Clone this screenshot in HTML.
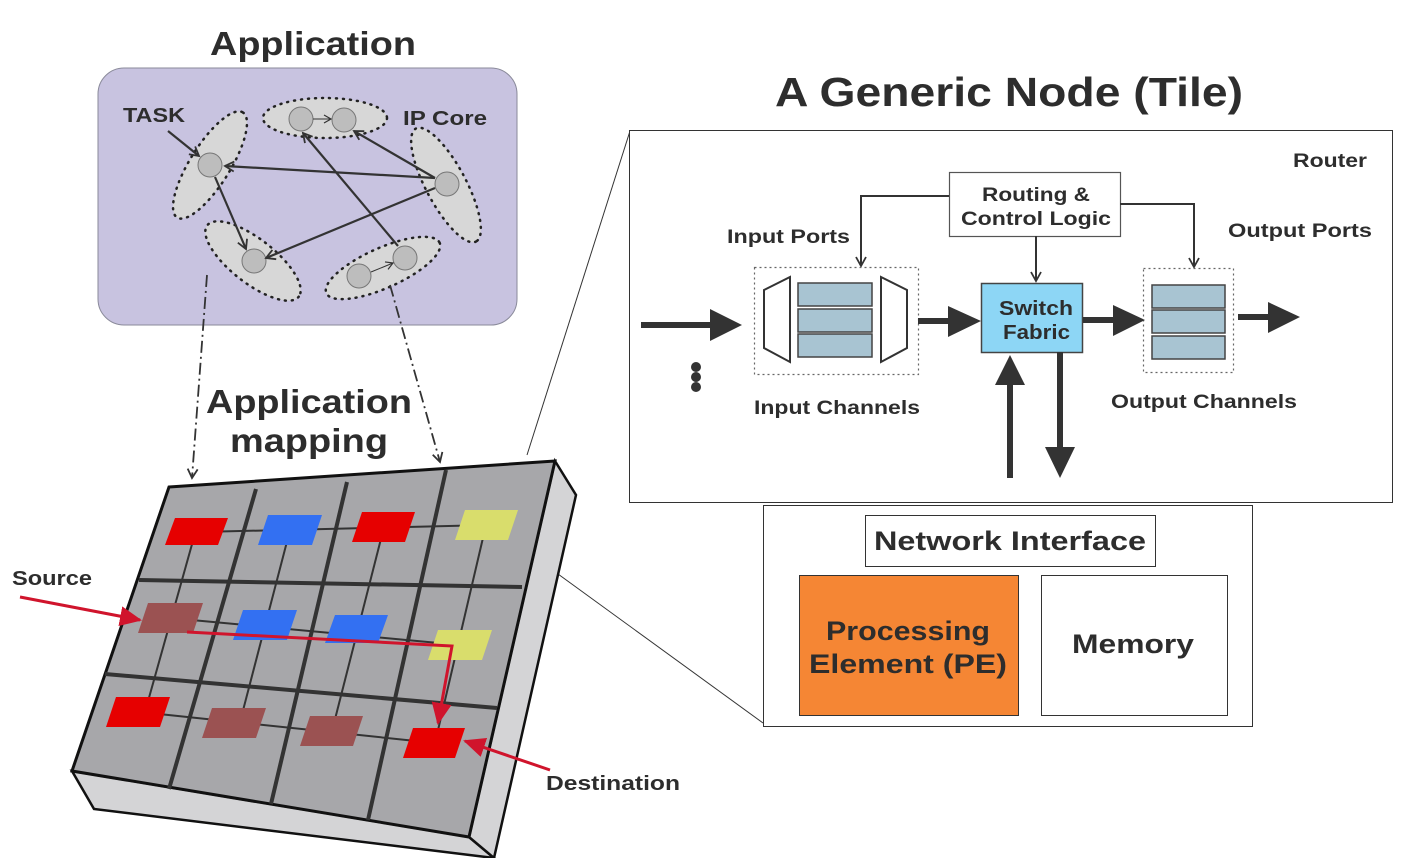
<!DOCTYPE html>
<html><head><meta charset="utf-8"><style>
html,body{margin:0;padding:0;background:#fff;}
svg{display:block;font-family:"Liberation Sans",sans-serif;font-weight:bold;}
</style></head><body>
<svg width="1407" height="858" viewBox="0 0 1407 858" xmlns="http://www.w3.org/2000/svg">
<defs>
<marker id="oa" markerWidth="12" markerHeight="12" refX="10" refY="6" orient="auto" markerUnits="userSpaceOnUse"><path d="M1,1 L10,6 L1,11" fill="none" stroke="#333" stroke-width="1.8"/></marker>
<marker id="sa" markerWidth="10" markerHeight="10" refX="8" refY="5" orient="auto" markerUnits="userSpaceOnUse"><path d="M1,1 L8,5 L1,9" fill="none" stroke="#333" stroke-width="1.2"/></marker>
<marker id="ra" markerWidth="24" markerHeight="20" refX="20" refY="10" orient="auto" markerUnits="userSpaceOnUse"><path d="M0,0 L22,10 L0,20 Z" fill="#d0142c"/></marker>
</defs>
<g fill="#2d2d2d">
<text x="210" y="55" font-size="33" textLength="206" lengthAdjust="spacingAndGlyphs">Application</text>
<text x="775" y="106" font-size="41" textLength="468" lengthAdjust="spacingAndGlyphs">A Generic Node (Tile)</text>
<text x="206" y="413" font-size="33" textLength="206" lengthAdjust="spacingAndGlyphs">Application</text>
<text x="230" y="452" font-size="33" textLength="158" lengthAdjust="spacingAndGlyphs">mapping</text>
</g>
<!-- application box -->
<rect x="98" y="68" width="419" height="257" rx="26" fill="#c8c3e0" stroke="#8a8a9a" stroke-width="1"/>
<g fill="#d7d7d7" stroke="#222" stroke-width="2.5" stroke-dasharray="1 6" stroke-linecap="round">
<ellipse cx="210" cy="165" rx="62" ry="20" transform="rotate(-58 210 165)"/>
<ellipse cx="325" cy="118" rx="62" ry="20"/>
<ellipse cx="446" cy="185" rx="64" ry="20" transform="rotate(62 446 185)"/>
<ellipse cx="253" cy="261" rx="58" ry="22" transform="rotate(38 253 261)"/>
<ellipse cx="383" cy="268" rx="62" ry="20" transform="rotate(-24 383 268)"/>
</g>
<g fill="#bdbdbd" stroke="#777" stroke-width="1">
<circle cx="210" cy="165" r="12"/><circle cx="301" cy="119" r="12"/><circle cx="344" cy="120" r="12"/>
<circle cx="447" cy="184" r="12"/><circle cx="254" cy="261" r="12"/><circle cx="359" cy="276" r="12"/><circle cx="405" cy="258" r="12"/>
</g>
<g stroke="#333" stroke-width="2.2" fill="none" marker-end="url(#oa)">
<line x1="168" y1="131" x2="199" y2="156"/>
<line x1="435" y1="178" x2="225" y2="166"/>
<line x1="435" y1="178" x2="354" y2="131"/>
<line x1="435" y1="188" x2="266" y2="258"/>
<line x1="215" y1="177" x2="246" y2="249"/>
<line x1="398" y1="246" x2="303" y2="133"/>
</g>
<line x1="313" y1="119" x2="331" y2="119" stroke="#333" stroke-width="1" marker-end="url(#sa)"/>
<line x1="371" y1="272" x2="393" y2="263" stroke="#333" stroke-width="1" marker-end="url(#sa)"/>
<g fill="#2d2d2d" font-size="20">
<text x="123" y="122" textLength="62" lengthAdjust="spacingAndGlyphs">TASK</text>
<text x="403" y="125" textLength="84" lengthAdjust="spacingAndGlyphs">IP Core</text>
</g>
<!-- dash-dot mapping lines -->
<g stroke="#333" stroke-width="1.8" fill="none" stroke-dasharray="12 4 2 4" marker-end="url(#oa)">
<line x1="207" y1="275" x2="192" y2="478"/>
<line x1="390" y1="285" x2="440" y2="462"/>
</g>
<!-- connector lines to tile -->
<line x1="527" y1="455" x2="630" y2="131" stroke="#333" stroke-width="1"/>
<line x1="558" y1="574" x2="763" y2="723" stroke="#333" stroke-width="1"/>
<!-- chip -->
<polygon points="72,771 469,837 494,858 94,809" fill="#d4d4d6" stroke="#111" stroke-width="2.5"/>
<polygon points="555,461 576,495 494,858 469,837" fill="#d4d4d6" stroke="#111" stroke-width="2.5"/>
<polygon points="169,487 555,461 469,837 72,771" fill="#a7a7aa" stroke="#111" stroke-width="3"/>
<g stroke="#333" stroke-width="4">
<line x1="139" y1="580" x2="522" y2="587"/>
<line x1="105" y1="674" x2="497" y2="708"/>
<line x1="256" y1="489" x2="169" y2="789"/>
<line x1="347" y1="482" x2="271" y2="804"/>
<line x1="446" y1="470" x2="368" y2="820"/>
</g>
<g stroke="#333" stroke-width="2">
<line x1="200" y1="532" x2="490" y2="525"/>
<line x1="170" y1="618" x2="460" y2="645"/>
<line x1="140" y1="712" x2="435" y2="743"/>
<line x1="196" y1="530" x2="145" y2="712"/>
<line x1="290" y1="530" x2="240" y2="722"/>
<line x1="384" y1="527" x2="332" y2="731"/>
<line x1="486" y1="525" x2="435" y2="743"/>
</g>
<g>
<polygon points="175,518 228,518 218,545 165,545" fill="#e60000"/>
<polygon points="268,515 322,515 312,545 258,545" fill="#3370f2"/>
<polygon points="362,512 415,512 405,542 352,542" fill="#e60000"/>
<polygon points="465,510 518,510 508,540 455,540" fill="#d9dd6c"/>
<polygon points="148,603 203,603 193,633 138,633" fill="#9b5252"/>
<polygon points="243,610 297,610 287,640 233,640" fill="#3370f2"/>
<polygon points="335,615 388,615 378,643 325,643" fill="#3370f2"/>
<polygon points="438,630 492,630 482,660 428,660" fill="#d9dd6c"/>
<polygon points="116,697 170,697 160,727 106,727" fill="#e60000"/>
<polygon points="212,708 266,708 256,738 202,738" fill="#9b5252"/>
<polygon points="310,716 363,716 353,746 300,746" fill="#9b5252"/>
<polygon points="413,728 465,728 455,758 403,758" fill="#e60000"/>
</g>
<polyline points="187,632 452,646 438,723" fill="none" stroke="#d0142c" stroke-width="3" marker-end="url(#ra)"/>
<line x1="20" y1="597" x2="140" y2="620" stroke="#d0142c" stroke-width="3" marker-end="url(#ra)"/>
<line x1="550" y1="770" x2="465" y2="741" stroke="#d0142c" stroke-width="3" marker-end="url(#ra)"/>
<g fill="#2d2d2d" font-size="20">
<text x="12" y="585" textLength="80" lengthAdjust="spacingAndGlyphs">Source</text>
<text x="546" y="790" textLength="134" lengthAdjust="spacingAndGlyphs">Destination</text>
</g>
<!-- router -->
<rect x="629.5" y="130.5" width="763" height="372" fill="#fff" stroke="#333" stroke-width="1"/>
<text x="1293" y="167" font-size="19" fill="#2d2d2d" textLength="74" lengthAdjust="spacingAndGlyphs">Router</text>
<rect x="949.5" y="172.5" width="171" height="64" fill="#fff" stroke="#555" stroke-width="1.2"/>
<text x="982" y="201" font-size="19" fill="#2d2d2d" textLength="108" lengthAdjust="spacingAndGlyphs">Routing &amp;</text>
<text x="961" y="225" font-size="19" fill="#2d2d2d" textLength="150" lengthAdjust="spacingAndGlyphs">Control Logic</text>
<g fill="#2d2d2d" font-size="19">
<text x="727" y="243" textLength="123" lengthAdjust="spacingAndGlyphs">Input Ports</text>
<text x="1228" y="237" textLength="144" lengthAdjust="spacingAndGlyphs">Output Ports</text>
<text x="754" y="414" textLength="166" lengthAdjust="spacingAndGlyphs">Input Channels</text>
<text x="1111" y="408" textLength="186" lengthAdjust="spacingAndGlyphs">Output Channels</text>
</g>
<g stroke="#333" stroke-width="2" fill="none" marker-end="url(#oa)">
<polyline points="949,196 861,196 861,266"/>
<polyline points="1120,204 1194,204 1194,267"/>
<line x1="1036" y1="236" x2="1036" y2="281"/>
</g>
<rect x="754.5" y="267.5" width="164" height="107" fill="none" stroke="#666" stroke-width="1.2" stroke-dasharray="2 3"/>
<rect x="1143.5" y="268.5" width="90" height="104" fill="none" stroke="#666" stroke-width="1.2" stroke-dasharray="2 3"/>
<polygon points="764,290 790,277 790,362 764,348" fill="#fff" stroke="#333" stroke-width="2"/>
<polygon points="881,277 907,290 907,348 881,362" fill="#fff" stroke="#333" stroke-width="2"/>
<g fill="#a8c4d2" stroke="#444" stroke-width="1.5">
<rect x="798" y="283" width="74" height="23"/><rect x="798" y="309" width="74" height="23"/><rect x="798" y="334" width="74" height="23"/>
<rect x="1152" y="285" width="73" height="23"/><rect x="1152" y="310" width="73" height="23"/><rect x="1152" y="336" width="73" height="23"/>
</g>
<rect x="981.5" y="283.5" width="101" height="69" fill="#8dd6f5" stroke="#444" stroke-width="1.5"/>
<text x="999" y="315" font-size="20" fill="#2d2d2d" textLength="74" lengthAdjust="spacingAndGlyphs">Switch</text>
<text x="1003" y="339" font-size="20" fill="#2d2d2d" textLength="67" lengthAdjust="spacingAndGlyphs">Fabric</text>
<g fill="#333">
<rect x="641" y="322" width="74" height="6"/><polygon points="710,309 742,325 710,341"/>
<rect x="918" y="318" width="34" height="6"/><polygon points="948,306 981,321 948,337"/>
<rect x="1083" y="317" width="34" height="6"/><polygon points="1113,305 1145,320 1113,336"/>
<rect x="1238" y="314" width="34" height="6"/><polygon points="1268,302 1300,317 1268,333"/>
<rect x="1007" y="380" width="6" height="98"/><polygon points="995,385 1010,355 1025,385"/>
<rect x="1057" y="352" width="6" height="100"/><polygon points="1045,447 1060,478 1075,447"/>
<circle cx="696" cy="367" r="5"/><circle cx="696" cy="377" r="5"/><circle cx="696" cy="387" r="5"/>
</g>
<!-- network interface -->
<rect x="763.5" y="505.5" width="489" height="221" fill="#fff" stroke="#333" stroke-width="1"/>
<rect x="865.5" y="515.5" width="290" height="51" fill="#fff" stroke="#333" stroke-width="1"/>
<text x="874" y="550" font-size="27" fill="#2d2d2d" textLength="272" lengthAdjust="spacingAndGlyphs">Network Interface</text>
<rect x="799.5" y="575.5" width="219" height="140" fill="#f58634" stroke="#333" stroke-width="1"/>
<text x="826" y="640" font-size="27" fill="#2d2d2d" textLength="164" lengthAdjust="spacingAndGlyphs">Processing</text>
<text x="809" y="673" font-size="27" fill="#2d2d2d" textLength="198" lengthAdjust="spacingAndGlyphs">Element (PE)</text>
<rect x="1041.5" y="575.5" width="186" height="140" fill="#fff" stroke="#333" stroke-width="1"/>
<text x="1072" y="653" font-size="27" fill="#2d2d2d" textLength="122" lengthAdjust="spacingAndGlyphs">Memory</text>
</svg>
</body></html>
